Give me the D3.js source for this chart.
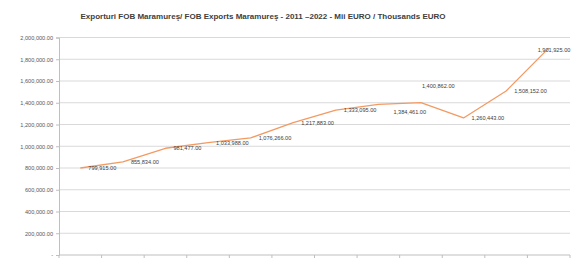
<!DOCTYPE html>
<html>
<head>
<meta charset="utf-8">
<script src="https://cdn.jsdelivr.net/npm/d3@7"></script>
<style>
  body { margin: 0; background: #fff; }
  svg { display: block; }
</style>
</head>
<body>
<div id="chart"></div>
<script>
let years = ["2011", "2012", "2013", "2014", "2015", "2016", "2017", "2018", "2019", "2020", "2021", "2022"]
let exportsFob = [799915, 855834, 981477, 1033988, 1076266, 1217883, 1333095, 1384461, 1400862, 1260443, 1508152, 1901925]
let yTicks = [0, 200000, 400000, 600000, 800000, 1000000, 1200000, 1400000, 1600000, 1800000, 2000000]

let width = 573, height = 260
let margin = {top: 37.5, right: 3, bottom: 5, left: 59}

// label nudges (dx, dy) relative to the point, default sits to the right
let labelNudge = {"2018": [7, 8], "2019": [-7, -17], "2022": [-19, 2]}

let svg = d3.select("#chart")
  .append("svg")
  .attr("width", width)
  .attr("height", height)

svg.append("text")
  .attr("x", 263)
  .attr("y", 18.5)
  .attr("text-anchor", "middle")
  .attr("font-family", "Liberation Sans, Arial, sans-serif")
  .attr("font-weight", "bold")
  .attr("font-size", 8)
  .attr("fill", "#404040")
  .text("Exporturi FOB Maramureş/ FOB Exports Maramureş - 2011 –2022 - Mii EURO / Thousands EURO")

let x = d3.scaleBand()
  .domain(years)
  .range([margin.left, width - margin.right])

let y = d3.scaleLinear()
  .domain([0, 2000000])
  .range([height - margin.bottom, margin.top])

let fmt = d3.format(",.2f")

// gridlines
svg.append("g")
  .selectAll("line")
  .data(yTicks.filter(d => d > 0))
  .join("line")
  .attr("x1", margin.left)
  .attr("x2", width - margin.right)
  .attr("y1", d => y(d))
  .attr("y2", d => y(d))
  .attr("stroke", "#d9d9d9")
  .attr("stroke-width", 1.2)

// y axis
let yAxis = svg.append("g")
  .attr("transform", `translate(${margin.left},0)`)
  .call(d3.axisLeft(y).tickValues(yTicks).tickSize(3).tickFormat(d => d === 0 ? "-" : fmt(d)))
yAxis.select(".domain").attr("stroke", "#bfbfbf")
yAxis.selectAll(".tick line").attr("stroke", "#bfbfbf")
yAxis.selectAll("text")
  .attr("font-family", "Liberation Sans, Arial, sans-serif")
  .attr("font-size", 5.6)
  .attr("fill", "#595959")
  .attr("x", -6)

// x axis, no labels, ticks between categories
let xAxis = svg.append("g")
  .attr("transform", `translate(0,${y(0)})`)
xAxis.append("line")
  .attr("x1", margin.left)
  .attr("x2", width - margin.right)
  .attr("stroke", "#bfbfbf")
xAxis.selectAll("line.tk")
  .data(years.concat(["end"]))
  .join("line")
  .attr("class", "tk")
  .attr("x1", (d, i) => i < years.length ? x(d) : x.range()[1])
  .attr("x2", (d, i) => i < years.length ? x(d) : x.range()[1])
  .attr("y1", 0)
  .attr("y2", 3)
  .attr("stroke", "#bfbfbf")

let pts = years.map((d, i) => ({year: d, value: exportsFob[i]}))

let line = d3.line()
  .x(d => x(d.year) + x.bandwidth() / 2)
  .y(d => y(d.value))

svg.append("path")
  .datum(pts)
  .attr("d", line)
  .attr("fill", "none")
  .attr("stroke", "#f39a63")
  .attr("stroke-width", 1.3)
  .attr("stroke-linejoin", "round")

svg.append("g")
  .selectAll("text")
  .data(pts)
  .join("text")
  .attr("x", d => x(d.year) + x.bandwidth() / 2 + 8 + (labelNudge[d.year] ? labelNudge[d.year][0] : 0))
  .attr("y", d => y(d.value) + 2 + (labelNudge[d.year] ? labelNudge[d.year][1] : 0))
  .attr("font-family", "Liberation Sans, Arial, sans-serif")
  .attr("font-size", 5.6)
  .attr("fill", "#404040")
  .text(d => fmt(d.value))
</script>
</body>
</html>
